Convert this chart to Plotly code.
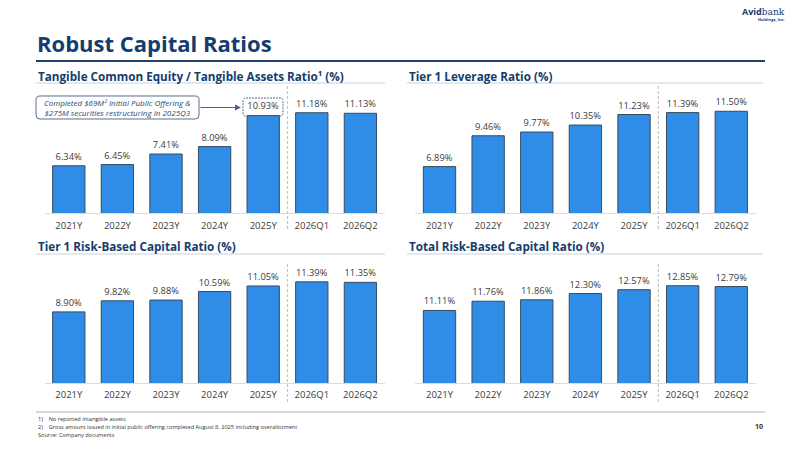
import plotly.graph_objects as go

periods = ["2021Y", "2022Y", "2023Y", "2024Y", "2025Y", "2026Q1", "2026Q2"]
tce_ratio = [6.34, 6.45, 7.41, 8.09, 10.93, 11.18, 11.13]
leverage_ratio = [6.89, 9.46, 9.77, 10.35, 11.23, 11.39, 11.50]
tier1_rbc = [8.90, 9.82, 9.88, 10.59, 11.05, 11.39, 11.35]
total_rbc = [11.11, 11.76, 11.86, 12.30, 12.57, 12.85, 12.79]

W, H = 800, 450
NAVY = "#143d6e"
BAR = "#2f8de8"


def px(x):
    return x / W


def py(y):
    return 1 - y / H


fig = go.Figure()

charts = [
    (tce_ratio, "x", "y", [44.5, 384.7], [213.3, 95.3], [2, 12.77]),
    (leverage_ratio, "x2", "y2", [415.2, 755.6], [213.3, 95.3], [3, 12.83]),
    (tier1_rbc, "x3", "y3", [44.5, 384.7], [383, 265], [3, 12.79]),
    (total_rbc, "x4", "y4", [415.2, 755.6], [383, 265], [6, 14.31]),
]

layout_axes = {}
for i, (vals, xa, ya, xd, yd, yr) in enumerate(charts):
    fig.add_trace(go.Bar(
        x=periods, y=vals, xaxis=xa, yaxis=ya,
        marker=dict(color=BAR, line=dict(color="#3a4a5c", width=1)),
        text=[f"{v:.2f}%" for v in vals], textposition="outside",
        textfont=dict(size=9.3, color="#3a3a3a"), cliponaxis=False,
        showlegend=False, hoverinfo="skip",
    ))
    n = "" if i == 0 else str(i + 1)
    layout_axes["xaxis" + n] = dict(
        domain=[px(xd[0]), px(xd[1])], anchor=ya, showgrid=False,
        showline=True, linecolor="#dcdcdc", linewidth=1, ticks="",
        tickfont=dict(size=9.5, color="#3a3a3a"), ticklabelstandoff=3, fixedrange=True,
    )
    layout_axes["yaxis" + n] = dict(
        domain=[py(yd[0]), py(yd[1])], anchor=xa, range=yr,
        visible=False, fixedrange=True,
    )
fig.update_layout(**layout_axes)

shapes = []
annotations = []

# title + rule
annotations.append(dict(text="<b>Robust Capital Ratios</b>", x=px(35), y=py(43),
                        xref="paper", yref="paper", xanchor="left", yanchor="middle",
                        showarrow=False, font=dict(size=22, color=NAVY)))
shapes.append(dict(type="line", xref="paper", yref="paper", x0=px(36), x1=px(765),
                   y0=py(61), y1=py(61), line=dict(color="#22416c", width=2)))

# logo
annotations.append(dict(text="<b>Avid</b><span style='font-family:DejaVu Serif'>bank</span>",
                        x=px(787), y=py(12), xref="paper", yref="paper",
                        xanchor="right", yanchor="middle", showarrow=False,
                        font=dict(size=9, color=NAVY)))
annotations.append(dict(text="<b>Holdings, Inc.</b>", x=px(787), y=py(19), xref="paper", yref="paper",
                        xanchor="right", yanchor="middle", showarrow=False,
                        font=dict(size=4, color=NAVY)))

# section headers
headers = [
    ("Tangible Common Equity / Tangible Assets Ratio¹ (%)", 36, 385, 76, 83),
    ("Tier 1 Leverage Ratio (%)", 407, 763, 76, 83),
    ("Tier 1 Risk-Based Capital Ratio (%)", 36, 385, 246, 254),
    ("Total Risk-Based Capital Ratio (%)", 407, 763, 246, 254),
]
for txt, x0, x1, ty, ly in headers:
    annotations.append(dict(text=f"<b>{txt}</b>", x=px(x0), y=py(ty), xref="paper", yref="paper",
                            xanchor="left", yanchor="middle", showarrow=False,
                            font=dict(size=11.7, color=NAVY)))
    shapes.append(dict(type="line", xref="paper", yref="paper", x0=px(x0), x1=px(x1),
                       y0=py(ly), y1=py(ly), line=dict(color="#c9d1da", width=1)))

# dashed separators between 2025Y and 2026Q1
for xa, top, bot in [("x", 84, 229), ("x2", 84, 229), ("x3", 264, 402), ("x4", 264, 402)]:
    shapes.append(dict(type="line", xref=xa, yref="paper", x0=4.5, x1=4.5,
                       y0=py(bot), y1=py(top), line=dict(color="#c4c4c4", width=1.2, dash="3px,2px")))


def rounded(x0, y0, x1, y1, r):
    pts = [(x0 + r, y0), (x1 - r, y0), (x1, y0 + r), (x1, y1 - r), (x1 - r, y1), (x0 + r, y1), (x0, y1 - r), (x0, y0 + r)]
    c = [(x1, y0), (x1, y1), (x0, y1), (x0, y0)]
    p = lambda a: f"{px(a[0]):.5f},{py(a[1]):.5f}"
    return (f"M{p(pts[0])} L{p(pts[1])} Q{p(c[0])} {p(pts[2])} L{p(pts[3])} Q{p(c[1])} {p(pts[4])} "
            f"L{p(pts[5])} Q{p(c[2])} {p(pts[6])} L{p(pts[7])} Q{p(c[3])} {p(pts[0])} Z")


# callout box
shapes.append(dict(type="path", xref="paper", yref="paper", path=rounded(36, 96, 199, 119, 4),
                   line=dict(color="#5a6f8c", width=1), fillcolor="white"))
annotations.append(dict(text="<i>Completed $69M² Initial Public Offering &<br>$275M securities restructuring in 2025Q3</i>",
                        x=px(117.5), y=py(107.5), xref="paper", yref="paper",
                        xanchor="center", yanchor="middle", showarrow=False, align="center",
                        font=dict(size=8, color="#2c4a75")))
annotations.append(dict(text="", x=px(241), y=py(107.5), xref="paper", yref="paper",
                        ax=-42, ay=0, showarrow=True, arrowhead=2, arrowsize=1, arrowwidth=1.2,
                        arrowcolor="#4a6283"))
# dashed box around the 2025Y label
shapes.append(dict(type="path", xref="paper", yref="paper", path=rounded(243, 98, 283, 116, 3),
                   line=dict(color="#5f6f82", width=1, dash="2px,1px")))

# footer
shapes.append(dict(type="line", xref="paper", yref="paper", x0=px(36), x1=px(765),
                   y0=py(412), y1=py(412), line=dict(color="#c8c8c8", width=1.5)))
notes = [
    ("1)&nbsp;&nbsp;&nbsp;&nbsp;No reported intangible assets", 419),
    ("2)&nbsp;&nbsp;&nbsp;&nbsp;Gross amount issued in initial public offering completed August 8, 2025 including overallotment", 427),
    ("Source: Company documents", 435),
]
for txt, y in notes:
    annotations.append(dict(text=txt, x=px(36), y=py(y), xref="paper", yref="paper",
                            xanchor="left", yanchor="middle", showarrow=False,
                            font=dict(size=5.6, color="#333333")))
annotations.append(dict(text="<b>10</b>", x=px(765), y=py(426), xref="paper", yref="paper",
                        xanchor="right", yanchor="middle", showarrow=False,
                        font=dict(size=7, color="#333333")))

fig.update_layout(
    width=W, height=H, margin=dict(l=0, r=0, t=0, b=0),
    paper_bgcolor="white", plot_bgcolor="white",
    font=dict(family="Open Sans", color="#333333"),
    bargap=0.335, shapes=shapes, annotations=annotations,
)

fig.write_html("out.html", config={"displayModeBar": False},
               post_script="document.body.style.margin='0';")
